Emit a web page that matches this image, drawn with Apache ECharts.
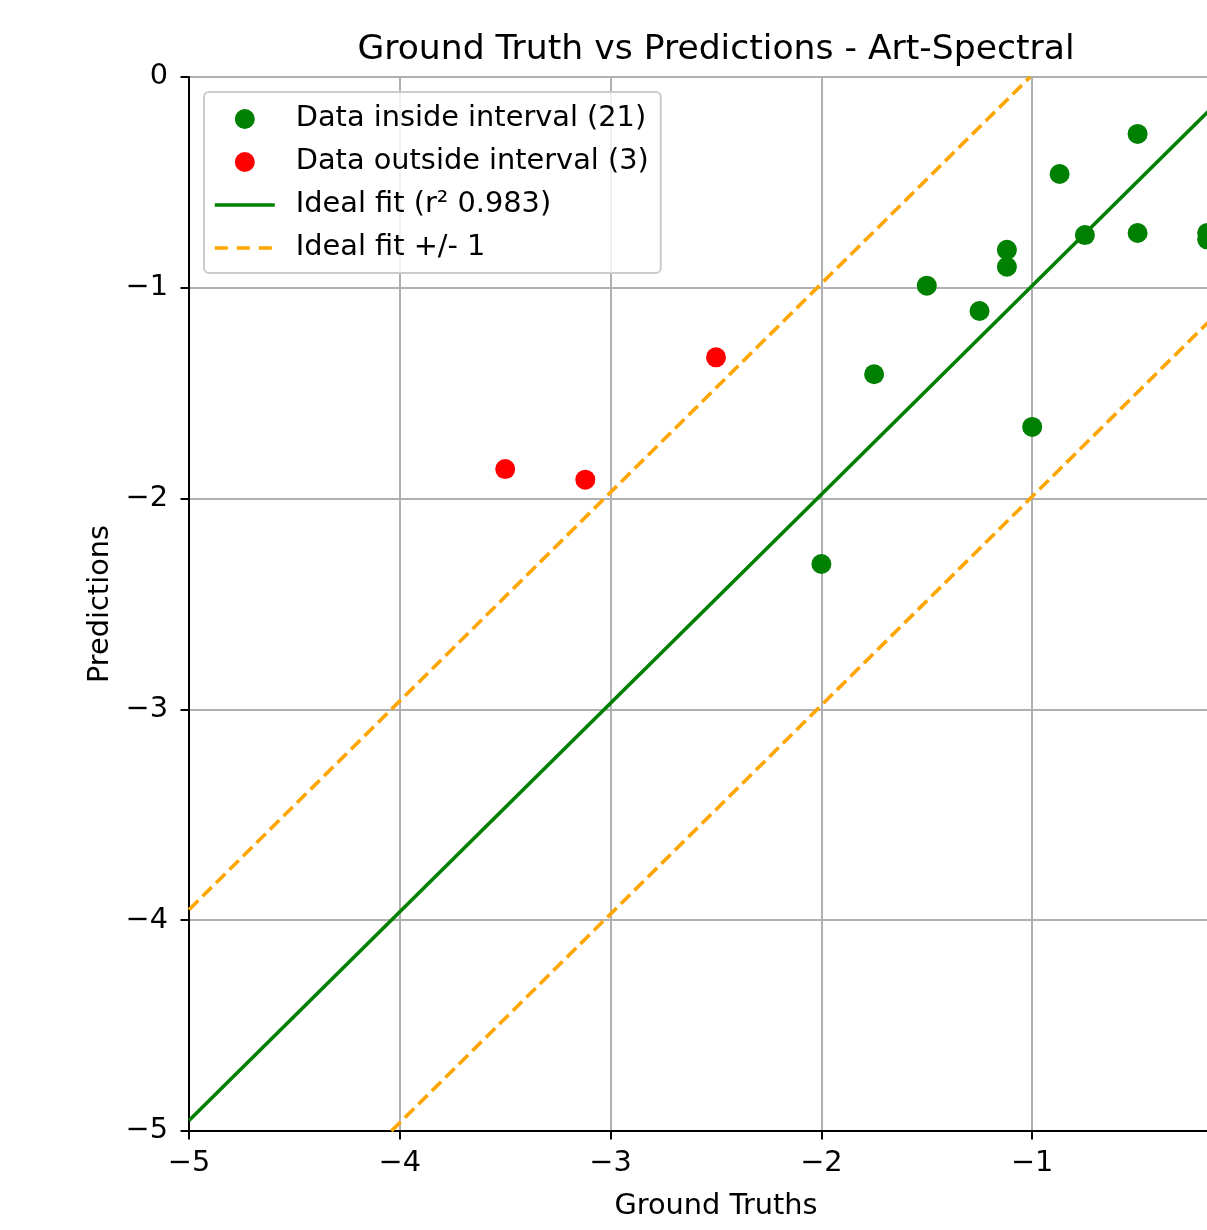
<!DOCTYPE html>
<html>
<head>
<meta charset="utf-8">
<script src="https://cdn.jsdelivr.net/npm/echarts@6/dist/echarts.min.js"></script>
<style>
html,body{margin:0;padding:0;overflow:hidden;background:#fff;}
#chart{width:1432px;height:1230px;}
</style>
</head>
<body>
<div id="chart"></div>
<script>
// Data
const insideX = [-0.50, -0.87, -0.75, -0.50, -0.17, -0.17, -1.12, -1.12, -1.50, -1.25, -1.75, -1.00, -2.00];
const insideY = [-0.27, -0.46, -0.75, -0.74, -0.74, -0.77, -0.82, -0.90, -0.99, -1.11, -1.41, -1.66, -2.31];
const outsideX = [-3.50, -3.12, -2.50];
const outsideY = [-1.86, -1.91, -1.33];
const fitX = [-5, 0];
const fitY = [-4.95, 0];
const upperX = [-5, -1.01];
const upperY = [-3.95, 0];
const lowerX = [-4.04, 0];
const lowerY = [-5, -1];
const axisTicks = [-5, -4, -3, -2, -1, 0];

const titleText = 'Ground Truth vs Predictions - Art-Spectral';
const xName = 'Ground Truths';
const yName = 'Predictions';
const nInside = 'Data inside interval (21)';
const nOutside = 'Data outside interval (3)';
const nFit = 'Ideal fit (r\u00b2 0.983)';
const nBand = 'Ideal fit +/- 1';

const zip = (a, b) => a.map((v, i) => [v, b[i]]);
const FONT = 'DejaVu Sans';
const fmt = v => String(v).replace('-', '\u2212');
const DASH = [13, 6];
const LW = 3.6;

const axisCommon = {
  type: 'value',
  min: axisTicks[0],
  max: axisTicks[axisTicks.length - 1],
  interval: 1,
  axisLine: {show: true, onZero: false, lineStyle: {color: '#000', width: 2}},
  axisTick: {show: true, inside: false, length: 8.5, lineStyle: {color: '#000', width: 2}},
  splitLine: {show: true, lineStyle: {color: '#b0b0b0', width: 2}},
  nameLocation: 'middle',
  nameTextStyle: {color: '#000', fontSize: 28.8, fontFamily: FONT}
};
const labelStyle = m => ({color: '#000', fontSize: 28.8, fontFamily: FONT, margin: m, formatter: fmt});

const hidden = {color: 'rgba(0,0,0,0)', borderColor: 'rgba(0,0,0,0)', borderWidth: 0, opacity: 0};

const chart = echarts.init(document.getElementById('chart'), null, {renderer: 'canvas'});
chart.setOption({
  animation: false,
  backgroundColor: '#fff',
  title: {
    text: titleText,
    left: 'center',
    top: 28,
    textStyle: {color: '#000', fontSize: 34.6, fontWeight: 'normal', fontFamily: FONT}
  },
  grid: {
    left: 189, right: 189, top: 77, bottom: 99,
    show: true, borderColor: '#000', borderWidth: 2, backgroundColor: 'transparent'
  },
  xAxis: Object.assign({}, axisCommon, {name: xName, nameGap: 61, axisLabel: labelStyle(18)}),
  yAxis: Object.assign({}, axisCommon, {name: yName, nameGap: 72, axisLabel: labelStyle(21)}),
  legend: {
    orient: 'vertical',
    left: 204,
    top: 92,
    padding: [12.5, 12, 10.5, 9],
    itemWidth: 60,
    itemHeight: 20,
    itemGap: 14,
    backgroundColor: 'rgba(255,255,255,0.8)',
    borderColor: '#cccccc',
    borderWidth: 2,
    borderRadius: 5,
    textStyle: {color: '#000', fontSize: 28.8, lineHeight: 29, fontFamily: FONT, padding: [0, 0, 0, 16]},
    data: [
      {name: nInside, icon: 'circle'},
      {name: nOutside, icon: 'circle'},
      {name: nFit, itemStyle: hidden, lineStyle: {color: '#008000', width: LW, type: 'solid'}},
      {name: nBand, itemStyle: hidden, lineStyle: {color: '#ffa500', width: LW, type: [13, 9]}}
    ]
  },
  series: [
    {
      name: nFit, type: 'line', data: zip(fitX, fitY), symbol: 'none', clip: true,
      lineStyle: {color: '#008000', width: LW}, itemStyle: {color: '#008000'}, z: 3
    },
    {
      name: nBand, type: 'line', data: zip(upperX, upperY), symbol: 'none', clip: true,
      lineStyle: {color: '#ffa500', width: LW, type: DASH}, itemStyle: {color: '#ffa500'}, z: 3
    },
    {
      name: nBand, type: 'line', data: zip(lowerX, lowerY), symbol: 'none', clip: true,
      lineStyle: {color: '#ffa500', width: LW, type: DASH}, itemStyle: {color: '#ffa500'}, z: 3
    },
    {
      name: nInside, type: 'scatter', data: zip(insideX, insideY), symbol: 'circle', symbolSize: 20,
      itemStyle: {color: '#008000', opacity: 1}, z: 4
    },
    {
      name: nOutside, type: 'scatter', data: zip(outsideX, outsideY), symbol: 'circle', symbolSize: 20,
      itemStyle: {color: '#ff0000', opacity: 1}, z: 4
    }
  ]
});
</script>
</body>
</html>
